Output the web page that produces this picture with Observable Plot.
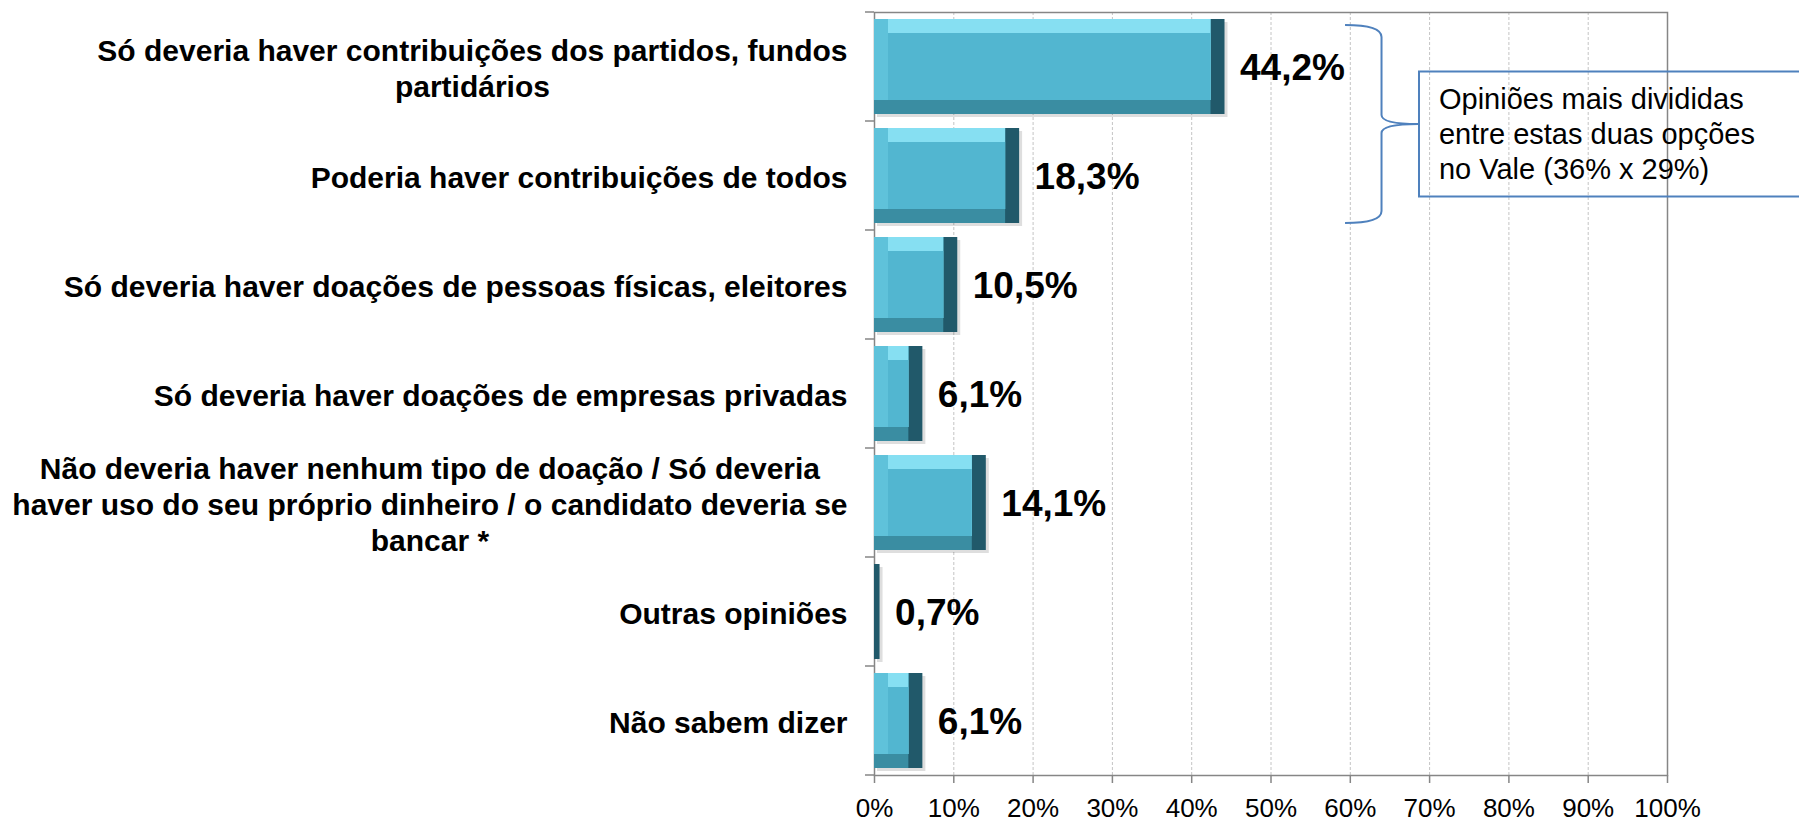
<!DOCTYPE html>
<html>
<head>
<meta charset="utf-8">
<script src="https://cdn.jsdelivr.net/npm/d3@7"></script>
<script src="https://cdn.jsdelivr.net/npm/@observablehq/plot@0.6"></script>
<style>
  html, body { margin: 0; padding: 0; background: #fff; }
  svg { display: block; }
</style>
</head>
<body>
<div id="chart"></div>
<script>
// ---- Data ----
const categories = [
  "Só deveria haver contribuições dos partidos, fundos partidários",
  "Poderia haver contribuições de todos",
  "Só deveria haver doações de pessoas físicas, eleitores",
  "Só deveria haver doações de empresas privadas",
  "Não deveria haver nenhum tipo de doação / Só deveria haver uso do seu próprio dinheiro / o candidato deveria se bancar *",
  "Outras opiniões",
  "Não sabem dizer"
];
const categoryLines = [
  ["Só deveria haver contribuições dos partidos, fundos", "partidários"],
  ["Poderia haver contribuições de todos"],
  ["Só deveria haver doações de pessoas físicas, eleitores"],
  ["Só deveria haver doações de empresas privadas"],
  ["Não deveria haver nenhum tipo de doação / Só deveria", "haver uso do seu próprio dinheiro / o candidato deveria se", "bancar *"],
  ["Outras opiniões"],
  ["Não sabem dizer"]
];
const values = [44.2, 18.3, 10.5, 6.1, 14.1, 0.7, 6.1];
const valueLabels = ["44,2%", "18,3%", "10,5%", "6,1%", "14,1%", "0,7%", "6,1%"];
const xTicks = [0, 10, 20, 30, 40, 50, 60, 70, 80, 90, 100];
const xTickLabels = ["0%", "10%", "20%", "30%", "40%", "50%", "60%", "70%", "80%", "90%", "100%"];
const noteLines = ["Opiniões mais divididas", "entre estas duas opções", "no Vale (36% x 29%)"];
const noteCategories = [categories[0], categories[1]];

// ---- Build ----
const FONT = "'Liberation Sans', Arial, Helvetica, sans-serif";
const rows = categories.map((c, i) => ({category: c, value: values[i], label: valueLabels[i], lines: categoryLines[i]}));

const ctx = document.createElement("canvas").getContext("2d");
ctx.font = "bold 30px 'Liberation Sans', Arial, sans-serif";

const B = 14; // bevel width
const bar = (fill, opts = {}) => Plot.barX(rows, {x: "value", y: "category", fill, ...opts});

const labelMarks = rows.map(r => {
  const w = d3.max(r.lines, l => ctx.measureText(l).width);
  return Plot.text([r], {
    x: () => 0, y: "category",
    text: d => d.lines.join("\n"),
    textAnchor: "middle", dx: -(27 + w / 2),
    fontSize: 30, fontWeight: "bold", lineHeight: 1.2, fill: "#000"
  });
});

function boundaryTicks(index, scales) {
  const y = scales.y, x = scales.x;
  const step = y.step(), bw = y.bandwidth();
  const ys = y.domain().map(c => y(c) - (step - bw) / 2);
  ys.push(ys[ys.length - 1] + step);
  const x0 = x(0);
  const g = d3.create("svg:g");
  g.selectAll("line").data(ys).join("line")
    .attr("x1", x0 - 9).attr("x2", x0)
    .attr("y1", d => d).attr("y2", d => d)
    .attr("stroke", "#868686").attr("stroke-width", 1.5);
  return g.node();
}

function note(index, scales) {
  const x = scales.x, y = scales.y, bw = y.bandwidth();
  const top = y(noteCategories[0]) + 6;
  const bottom = y(noteCategories[1]) + bw;
  const mid = (top + bottom) / 2;
  const xb = x(59.4), xv = x(64), xt = x(68.6);
  const g = d3.create("svg:g");
  g.append("path")
    .attr("d", `M${xb},${top} Q${xv},${top} ${xv},${top + 12} L${xv},${mid - 9} Q${xv},${mid} ${xt},${mid} Q${xv},${mid} ${xv},${mid + 9} L${xv},${bottom - 12} Q${xv},${bottom} ${xb},${bottom}`)
    .attr("fill", "none").attr("stroke", "#4F81BD").attr("stroke-width", 2);
  const bx = xt + 1, by = mid - 52.5;
  g.append("rect").attr("x", bx).attr("y", by).attr("width", 500).attr("height", 125)
    .attr("fill", "none").attr("stroke", "#4F81BD").attr("stroke-width", 2);
  g.selectAll("text").data(noteLines).join("text")
    .attr("x", bx + 20).attr("y", (d, i) => by + 37 + i * 35)
    .attr("text-anchor", "start")
    .attr("font-size", 29).attr("font-family", FONT).attr("fill", "#000")
    .text(d => d);
  return g.node();
}

const chart = Plot.plot({
  width: 1799,
  height: 820,
  marginLeft: 874,
  marginRight: 132,
  marginTop: 12,
  marginBottom: 45,
  style: {fontFamily: FONT, background: "#fff", color: "#000", overflow: "visible"},
  x: {domain: [0, 100], axis: null},
  y: {domain: categories, paddingInner: 0.13, paddingOuter: 0.065, axis: null},
  marks: [
    Plot.ruleX(xTicks.filter(t => t > 0 && t < 100), {stroke: "#c4c4c4", strokeDasharray: "3,2"}),
    Plot.frame({stroke: "#868686", strokeWidth: 1.5}),
    Plot.axisX(xTicks, {
      tickSize: 8, tickPadding: 15, fontSize: 26, stroke: "#868686", strokeWidth: 1.5, fill: "#000",
      tickFormat: (d) => xTickLabels[xTicks.indexOf(d)], label: null
    }),
    bar("#000", {fillOpacity: 0.13, dx: 3, dy: 3}),
    bar("#21596A"),
    bar("#3A8DA2", {insetRight: B}),
    bar("#5FC2DA", {insetRight: B, insetBottom: B}),
    bar("#86DFF2", {insetRight: B, insetBottom: B, insetLeft: B}),
    bar("#52B6D0", {insetRight: B, insetBottom: B, insetLeft: B, insetTop: B}),
    Plot.text(rows, {x: "value", y: "category", text: "label", dx: 15, dy: 1, textAnchor: "start",
      fontSize: 37, fontWeight: "bold", fill: "#000"}),
    ...labelMarks,
    boundaryTicks,
    note
  ]
});
document.getElementById("chart").appendChild(chart);
</script>
</body>
</html>
